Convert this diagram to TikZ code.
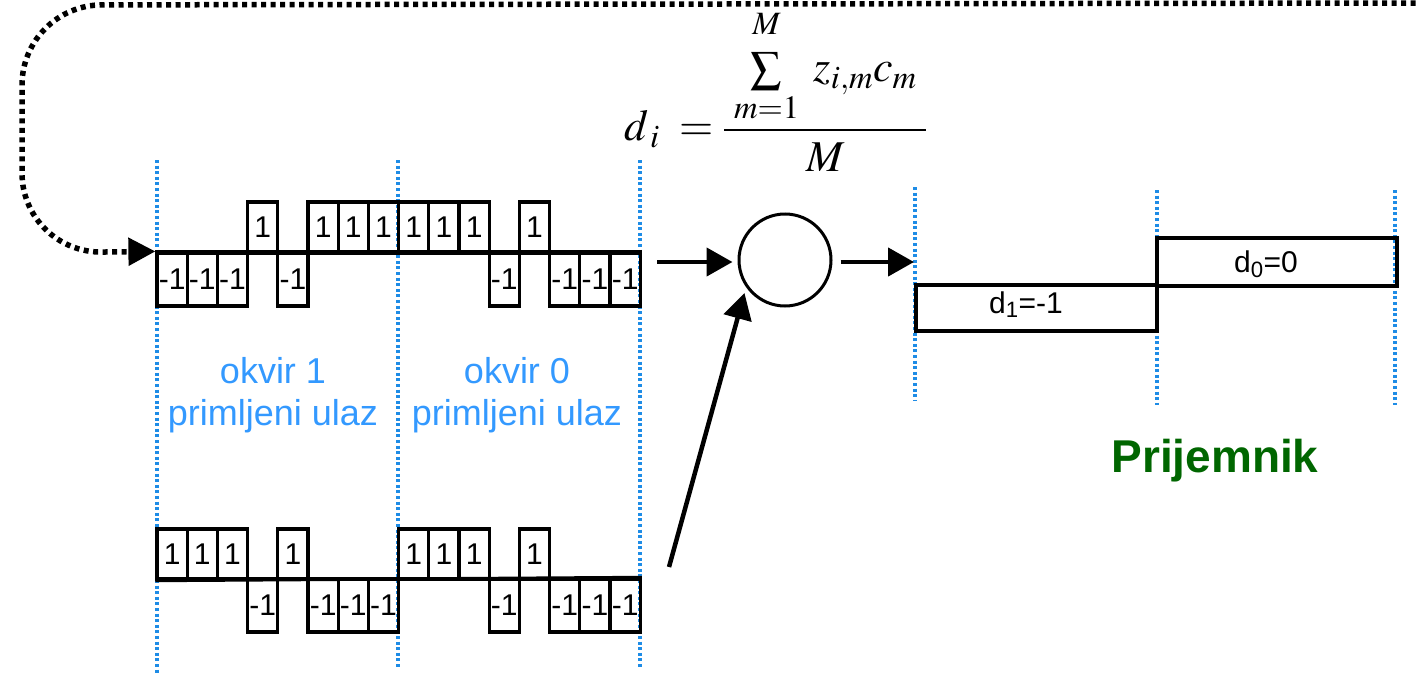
\documentclass[tikz,border=0pt]{standalone}
\usepackage{mathptmx}
\usepackage[no-math]{fontspec}
\setmainfont{Liberation Sans}
\usetikzlibrary{arrows.meta}
\definecolor{guideblue}{RGB}{30,140,230}
\definecolor{labelblue}{RGB}{51,153,255}
\definecolor{dkgreen}{RGB}{0,102,0}
\begin{document}
\begin{tikzpicture}[x=1pt,y=-1pt,
  chip/.style={draw, line width=3.2pt, minimum width=30.2pt, inner sep=0pt, font=\fontsize{30}{30}\selectfont},
  wave/.style={line width=3.2pt},
  guide/.style={draw=guideblue, line width=3.2pt, dash pattern=on 3pt off 2.6pt},
  arr/.style={line width=4.5pt, -{Triangle[length=26pt,width=28pt]}},
  fb/.style={line width=5.5pt, dash pattern=on 5pt off 4.5pt, -{Triangle[length=27pt,width=27pt]}},
  lbl/.style={text=labelblue, align=center, font=\fontsize{36}{42}\selectfont},
  dbox/.style={draw, line width=3.2pt, inner sep=0pt},
  dlbl/.style={font=\fontsize{30}{30}\selectfont, inner sep=0pt}
]
\useasboundingbox (0,0) rectangle (1416,685);

% blue guide lines
\draw[guide] (157,160) -- (157,675);
\draw[guide] (398,160) -- (398,668);
\draw[guide] (640,160) -- (640,668);
\draw[guide] (915,187) -- (915,400);
\draw[guide] (1157,190) -- (1157,405);
\draw[guide] (1395,190) -- (1395,405);

% upper waveform (received)
\foreach \v [count=\i from 0] in {-1,-1,-1,1,-1,1,1,1,1,1,1,-1,1,-1,-1,-1} {
  \ifnum\v>0
    \node[chip, minimum height=51pt] (u\i) at ({157+(\i+0.5)*30.2}, 227.5) {1};
  \else
    \node[chip, minimum height=53pt] (u\i) at ({157+(\i+0.5)*30.2}, 279.5) {-1};
  \fi
}
\draw[wave] (u0.north west) -- (u15.north east);

% lower waveform (code)
\foreach \v [count=\i from 0] in {1,1,1,-1,1,-1,-1,-1,1,1,1,-1,1,-1,-1,-1} {
  \ifnum\v>0
    \node[chip, minimum height=50pt] (l\i) at ({157+(\i+0.5)*30.2}, 554) {1};
  \else
    \node[chip, minimum height=53pt] (l\i) at ({157+(\i+0.5)*30.2}, 605.5) {-1};
  \fi
}
\draw[wave] (l0.south west) -- (l15.north east);

% labels
\node[lbl] (f1) at (273,395) {okvir 1\\primljeni ulaz};
\node[lbl] (f0) at (517,395) {okvir 0\\primljeni ulaz};

% correlator
\node[circle, draw, line width=3pt, minimum size=92pt, inner sep=0pt] (sum) at (785,260) {};
\coordinate (a1s) at (657,262);
\coordinate (a2e) at (914,262);
\coordinate (a3s) at (669,567);
\draw[arr, shorten >=5pt] (a1s) -- (a1s -| sum.west);
\draw[arr, shorten <=8pt] (a2e -| sum.east) -- (a2e);
\draw[arr, shorten >=6pt] (a3s) -- (sum.215);

% formula
\node[font=\fontsize{44}{52}\selectfont] (formula) at (776,90)
  {$\displaystyle d_{\,i} \;= \frac{\;\sum\limits_{m=1}^{\raisebox{0.2em}{$\scriptstyle M$}}\; z_{i,m}c_m\;}{M}$};

% decoded bits
\node[dbox, minimum width=241pt, minimum height=46pt] (d1) at (1036.5,308) {};
\node[dbox, minimum width=240pt, minimum height=48pt] (d0) at (1277,262) {};
\node[dlbl, anchor=base] (d1t) at (1026,313) {d\textsubscript{1}=-1};
\node[dlbl, anchor=base] (d0t) at (1266,272) {d\textsubscript{0}=0};

\node[font=\bfseries\fontsize{46}{46}\selectfont, text=dkgreen, anchor=base, inner sep=0pt] (rx) at (1215,472) {Prijemnik};

% feedback loop
\coordinate (fbs) at (1425,3);
\draw[fb, rounded corners=80pt] (fbs) -- (22,5) -- (22,253) -- (u0.north west);
\end{tikzpicture}
\end{document}
